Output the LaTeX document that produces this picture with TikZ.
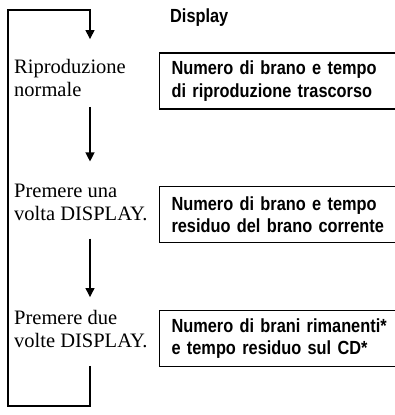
\documentclass[tikz,border=0pt]{standalone}
\usepackage{fontspec}
\setmainfont{Liberation Serif}
\newfontfamily\dispfont[FakeStretch=0.86]{Liberation Sans}
\usepackage{tikz}
\usetikzlibrary{arrows.meta, positioning, calc}

\begin{document}
\begin{tikzpicture}[x=1pt, y=-1pt,
				stepbox/.style={inner sep=0pt, anchor=west, align=left, font=\fontsize{20.5}{23}\selectfont},
				dispbox/.style={rectangle, draw=black, line width=1.1pt, anchor=west, minimum height=56pt, text width=222pt, inner xsep=12pt, inner ysep=0pt, align=left, font=\dispfont\bfseries\fontsize{19}{22.5}\selectfont},
				arrow/.style={-{Triangle[length=9pt, width=9pt]}, line width=1.2pt, draw=black}
				]
				\useasboundingbox (0,0) rectangle (395,415);
				
				% Heading
				\node[anchor=base west, inner sep=0pt, font=\dispfont\bfseries\fontsize{19}{22}\selectfont] (disp) at (170,23) {Display};
				
				% Column 1: Operations
				\node[stepbox] (step1) at (14,78) {Riproduzione\\normale};
				\node[stepbox] (step2) at (14,202) {Premere una\\volta DISPLAY.};
				\node[stepbox] (step3) at (14,329) {Premere due\\volte DISPLAY.};
				
				% Column 2: Display contents
				\node[dispbox] (show1) at (159,81) {Numero di brano e tempo\\di riproduzione trascorso};
				\node[dispbox] (show2) at (159,214.5) {Numero di brano e tempo\\residuo del brano corrente};
				\node[dispbox] (show3) at (159,338.5) {Numero di brani rimanenti*\\e tempo residuo sul CD*};
				
				% Loop path
				\coordinate (axis) at (90,0);
				\coordinate (loopbl) at (8,406);
				\coordinate (looptl) at (8,10);
				
				% Arrows
				\draw[arrow] ([yshift=-10pt]step1.south -| axis) -- ([yshift=22pt]step2.north -| axis);
				\draw[arrow] ([yshift=-18pt]step2.south -| axis) -- ([yshift=13pt]step3.north -| axis);
				\draw[arrow] ([yshift=-18pt]step3.south -| axis) |- (loopbl) -- (looptl) -| ([yshift=20pt]step1.north -| axis);
			\end{tikzpicture}
\end{document}
